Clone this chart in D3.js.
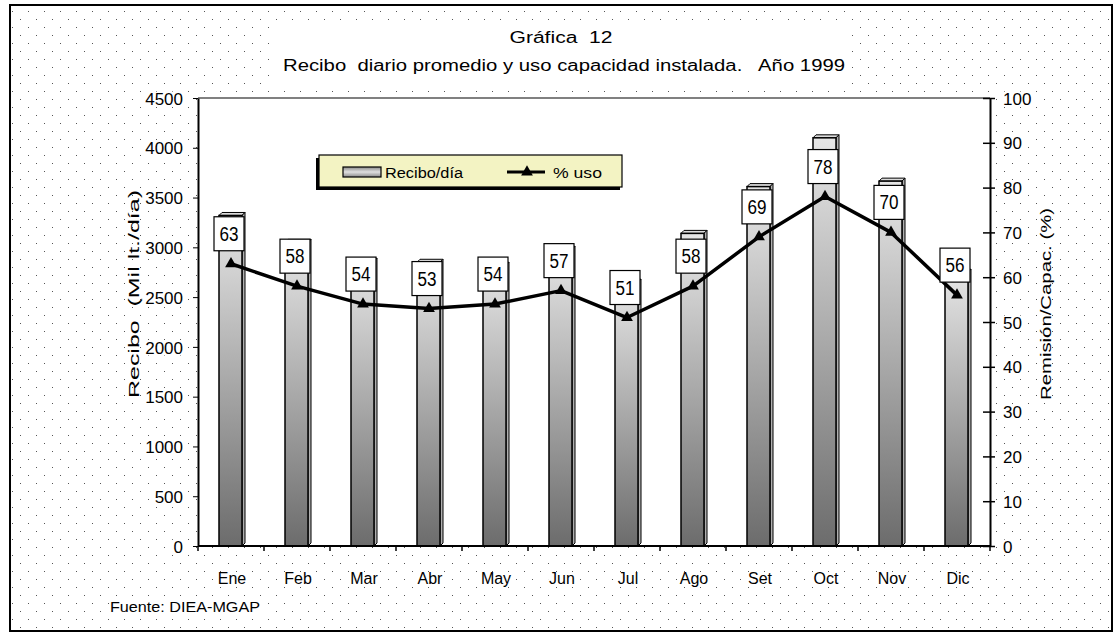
<!DOCTYPE html>
<html><head><meta charset="utf-8">
<script src="https://cdn.jsdelivr.net/npm/d3@7"></script>
<style>
body{margin:0;background:#fff}
text{font-family:"Liberation Sans",Arial,sans-serif;fill:#000;white-space:pre}
</style>
</head><body>
<svg id="c" width="1113" height="634"></svg>
<script>
// ---- data ----
const months = ["Ene","Feb","Mar","Abr","May","Jun","Jul","Ago","Set","Oct","Nov","Dic"];
const recibo = [3320,3050,2860,2850,2820,2980,2650,3140,3610,4100,3665,2750];
const usoPct = [63,58,54,53,54,57,51,58,69,78,70,56];
const leftTicks = [0,500,1000,1500,2000,2500,3000,3500,4000,4500];
const rightTicks = [0,10,20,30,40,50,60,70,80,90,100];
const titleText = "Gráfica  12";
const subtitleText = "Recibo  diario promedio y uso capacidad instalada.   Año 1999";
const leftTitle = "Recibo  (Mil lt./día)";
const rightTitle = "Remisión/Capac. (%)";
const legendBar = "Recibo/día";
const legendLine = "% uso";
const sourceText = "Fuente: DIEA-MGAP";

// ---- layout ----
const svg = d3.select("#c");
const P = {l:198, r:990, t:98, b:546};

const defs = svg.append("defs");
const pat = defs.append("pattern").attr("id","dots").attr("patternUnits","userSpaceOnUse")
  .attr("width",16).attr("height",16).attr("x",4).attr("y",3);
pat.append("rect").attr("x",0).attr("y",0).attr("width",1).attr("height",1).attr("fill","#555");
pat.append("rect").attr("x",8).attr("y",8).attr("width",1).attr("height",1).attr("fill","#555");

const g1 = defs.append("linearGradient").attr("id","barG").attr("x1",0).attr("y1",0).attr("x2",0).attr("y2",1);
g1.append("stop").attr("offset","0%").attr("stop-color","#e6e6e6");
g1.append("stop").attr("offset","100%").attr("stop-color","#6c6c6c");
const g2 = defs.append("linearGradient").attr("id","legG").attr("x1",0).attr("y1",0).attr("x2",0).attr("y2",1);
g2.append("stop").attr("offset","0%").attr("stop-color","#8a8a8a");
g2.append("stop").attr("offset","50%").attr("stop-color","#e0e0e0");
g2.append("stop").attr("offset","100%").attr("stop-color","#8a8a8a");

// background
svg.append("rect").attr("x",0).attr("y",0).attr("width",1113).attr("height",634).attr("fill","#fff");
svg.append("rect").attr("x",10).attr("y",6).attr("width",1101).attr("height",624).attr("fill","url(#dots)");
svg.append("rect").attr("x",10).attr("y",5).attr("width",1102).attr("height",626)
  .attr("fill","none").attr("stroke","#000").attr("stroke-width",2);

// title box
svg.append("rect").attr("x",276).attr("y",24).attr("width",575).attr("height",60).attr("fill","#fff");
svg.append("text").attr("x",561).attr("y",43).attr("text-anchor","middle").attr("font-size",16)
  .attr("textLength",103).attr("lengthAdjust","spacingAndGlyphs").text(titleText);
svg.append("text").attr("x",564).attr("y",71).attr("text-anchor","middle").attr("font-size",16)
  .attr("textLength",562).attr("lengthAdjust","spacingAndGlyphs").text(subtitleText);

// plot area
svg.append("rect").attr("x",P.l).attr("y",P.t).attr("width",P.r-P.l).attr("height",P.b-P.t).attr("fill","#fff");
svg.append("line").attr("x1",P.l).attr("x2",P.r).attr("y1",P.t).attr("y2",P.t).attr("stroke","#808080").attr("stroke-width",2);

// scales
const x = d3.scaleBand().domain(months).range([P.l,P.r]);
const yL = d3.scaleLinear().domain([0,4500]).range([P.b,P.t]);
const yR = d3.scaleLinear().domain([0,100]).range([P.b,P.t]);
const bw = 23, depth = 3;

// bars
const bars = svg.append("g");
months.forEach((m,i)=>{
  const x0 = x(m) + (x.bandwidth()-bw)/2 - 0.5, x1 = x0 + bw;
  const y0 = yL(recibo[i]), yb = yL(0);
  bars.append("polygon").attr("points",[[x0,y0],[x0+depth,y0-depth],[x1+depth,y0-depth],[x1,y0]].join(" "))
    .attr("fill","#dcdcdc").attr("stroke","#000").attr("stroke-width",1);
  bars.append("polygon").attr("points",[[x1,y0],[x1+depth,y0-depth],[x1+depth,yb-depth],[x1,yb]].join(" "))
    .attr("fill","#b0b0b0").attr("stroke","#000").attr("stroke-width",1);
  bars.append("rect").attr("x",x0).attr("y",y0).attr("width",bw).attr("height",yb-y0)
    .attr("fill","url(#barG)").attr("stroke","#000").attr("stroke-width",1.5);
});

// axes
const axL = svg.append("g").attr("transform",`translate(${P.l},0)`)
  .call(d3.axisLeft(yL).tickValues(leftTicks).tickFormat(d3.format("d")).tickSizeInner(5).tickSizeOuter(0).tickPadding(10));
axL.select(".domain").attr("stroke","#000").attr("stroke-width",2);
axL.selectAll("text").attr("font-size",17).attr("font-family","Liberation Sans").attr("dy","0.36em");

const axR = svg.append("g").attr("transform",`translate(${P.r},0)`)
  .call(d3.axisRight(yR).tickValues(rightTicks).tickFormat(d3.format("d")).tickSizeInner(5).tickSizeOuter(0).tickPadding(8));
axR.select(".domain").attr("stroke","#000").attr("stroke-width",2);
axR.selectAll(".tick line").attr("x1",-7).attr("stroke-width",1.5);
axR.selectAll("text").attr("font-size",17).attr("font-family","Liberation Sans").attr("dy","0.36em");

// x axis
svg.append("line").attr("x1",P.l).attr("x2",P.r+1).attr("y1",P.b).attr("y2",P.b).attr("stroke","#000").attr("stroke-width",2);
const xt = svg.append("g");
months.concat(["_end"]).forEach((m,i)=>{
  const xx = i < months.length ? x(m) : P.r;
  xt.append("line").attr("x1",xx).attr("x2",xx).attr("y1",P.b).attr("y2",P.b+5).attr("stroke","#000").attr("stroke-width",1.5);
});
months.forEach(m=>{
  svg.append("text").attr("x",x(m)+x.bandwidth()/2+1).attr("y",584).attr("text-anchor","middle")
    .attr("font-size",16).text(m);
});

// line
const line = d3.line().x((d,i)=>x(months[i])+x.bandwidth()/2).y(d=>yR(d));
svg.append("path").datum(usoPct).attr("d",line).attr("fill","none").attr("stroke","#000").attr("stroke-width",3.5)
  .attr("stroke-linejoin","round");
const tri = d3.symbol().type(d3.symbolTriangle).size(60);
usoPct.forEach((v,i)=>{
  svg.append("path").attr("d",tri).attr("fill","#000")
    .attr("transform",`translate(${x(months[i])+x.bandwidth()/2},${yR(v)})`);
});

// data labels
usoPct.forEach((v,i)=>{
  const cx = x(months[i])+x.bandwidth()/2, py = yR(v);
  const by = py - 13 - 34;
  svg.append("rect").attr("x",cx-17).attr("y",by).attr("width",30).attr("height",34)
    .attr("fill","#fff").attr("stroke","#000").attr("stroke-width",1.2);
  svg.append("text").attr("x",cx-2).attr("y",by+24).attr("text-anchor","middle")
    .attr("font-family","Liberation Mono").attr("font-size",20)
    .attr("textLength",19).attr("lengthAdjust","spacingAndGlyphs").text(d3.format("d")(v));
});

// legend
svg.append("rect").attr("x",316).attr("y",158).attr("width",304).attr("height",32).attr("fill","#000");
svg.append("rect").attr("x",319).attr("y",155).attr("width",303).attr("height",32)
  .attr("fill","#f3f3c3").attr("stroke","#000").attr("stroke-width",1.2);
svg.append("rect").attr("x",343).attr("y",167).attr("width",38).attr("height",10)
  .attr("fill","url(#legG)").attr("stroke","#000").attr("stroke-width",1.2);
svg.append("text").attr("x",385).attr("y",178).attr("font-size",14)
  .attr("textLength",78).attr("lengthAdjust","spacingAndGlyphs").text(legendBar);
svg.append("line").attr("x1",507).attr("x2",545).attr("y1",172).attr("y2",172).attr("stroke","#000").attr("stroke-width",3);
svg.append("path").attr("d",tri).attr("fill","#000").attr("transform","translate(527,172)");
svg.append("text").attr("x",553).attr("y",178).attr("font-size",14)
  .attr("textLength",49).attr("lengthAdjust","spacingAndGlyphs").text(legendLine);

// axis titles
svg.append("text").attr("transform","translate(139,294) rotate(-90)").attr("text-anchor","middle")
  .attr("font-size",15).attr("textLength",208).attr("lengthAdjust","spacingAndGlyphs").text(leftTitle);
svg.append("text").attr("transform","translate(1051,304) rotate(-90)").attr("text-anchor","middle")
  .attr("font-size",15).attr("textLength",192).attr("lengthAdjust","spacingAndGlyphs").text(rightTitle);

// source
svg.append("text").attr("x",110).attr("y",612).attr("font-size",14)
  .attr("textLength",150).attr("lengthAdjust","spacingAndGlyphs").text(sourceText);

// white backgrounds behind free texts (opaque labels)
svg.selectAll("text").each(function(){
  const t = this;
  if (t.closest("g") === null || t.closest(".tick")) {
    const b = t.getBBox();
    const ctm = t.getCTM();
    if (ctm.b === 0 && !(b.x > P.l && b.x < P.r && b.y > P.t && b.y < P.b)) {
      const r = document.createElementNS("http://www.w3.org/2000/svg","rect");
      r.setAttribute("x",b.x-1); r.setAttribute("y",b.y+2); r.setAttribute("width",b.width+2); r.setAttribute("height",b.height-4);
      r.setAttribute("fill","#fff");
      t.parentNode.insertBefore(r,t);
    }
  }
});
</script>
</body></html>
